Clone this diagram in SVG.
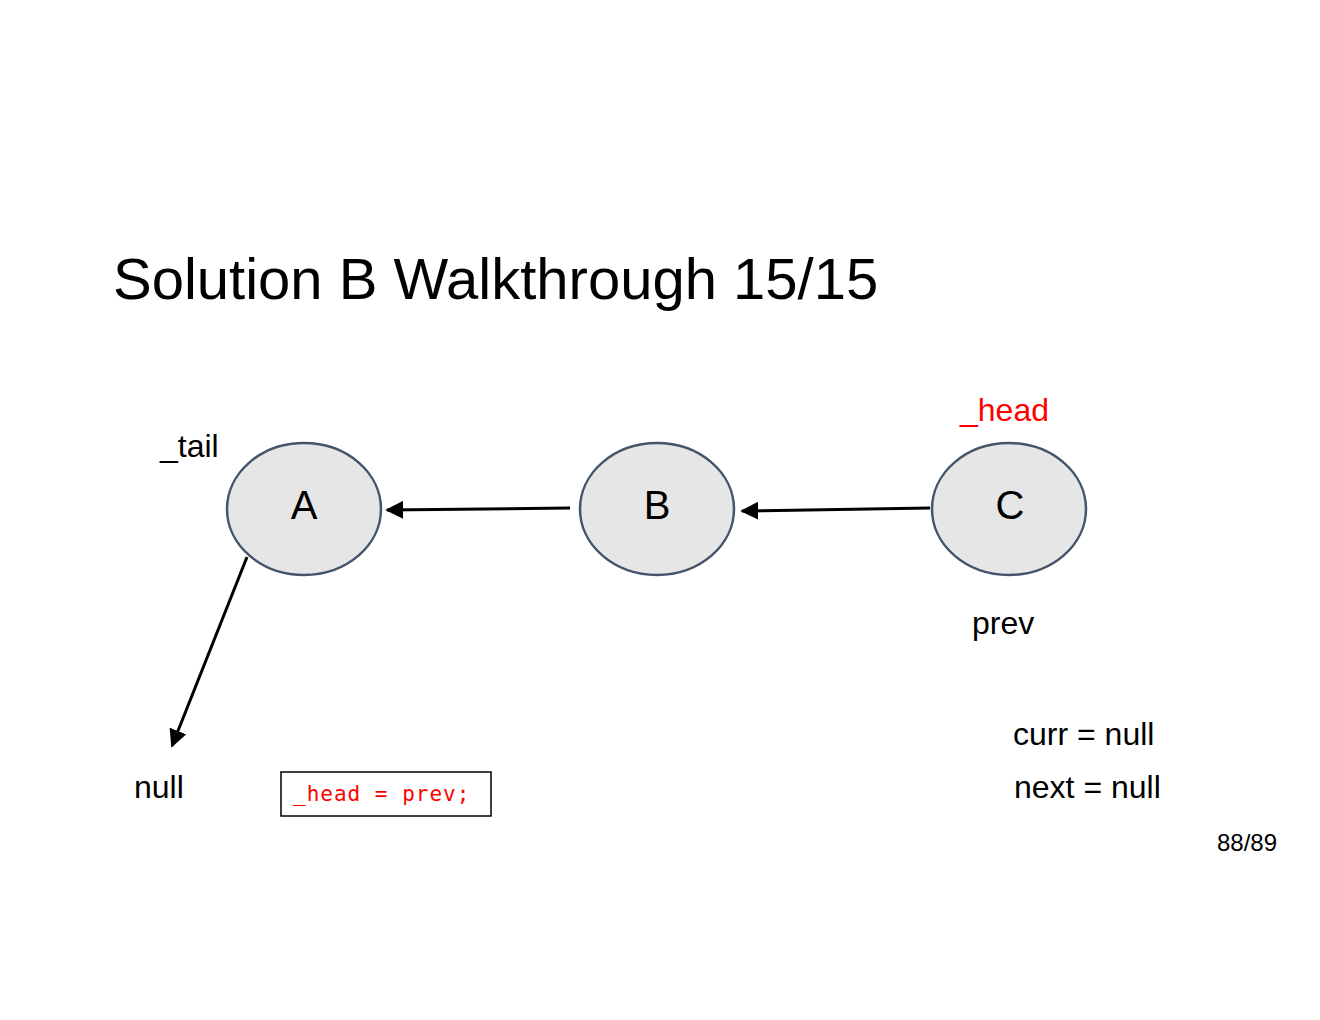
<svg xmlns="http://www.w3.org/2000/svg" width="1320" height="1020" viewBox="0 0 1320 1020">
  <style>
    .t { font-family: "Liberation Sans", Arial, sans-serif; fill: #000; }
    .red { fill: #ff0000; }
    .node ellipse { fill: #e6e6e6; stroke: #44546a; stroke-width: 2.5; }
    .node text { font-family: "Liberation Sans", Arial, sans-serif; font-size: 40px; text-anchor: middle; fill: #000; }
    .edge { stroke: #000; stroke-width: 3; fill: none; marker-end: url(#arrow); }
    .code { font-family: "DejaVu Sans Mono", "Liberation Mono", monospace; font-size: 21px; letter-spacing: 1px; fill: #ff0000; }
  </style>
  <defs>
    <marker id="arrow" viewBox="0 0 10 10" refX="9" refY="5" markerWidth="6" markerHeight="6" orient="auto" markerUnits="strokeWidth">
      <path d="M0,0 L10,5 L0,10 z" fill="#000"/>
    </marker>
  </defs>
  <rect width="1320" height="1020" fill="#fff"/>

  <text class="t" x="113" y="299" font-size="58">Solution B Walkthrough 15/15</text>

  <g id="connectors">
    <line class="edge" x1="570" y1="508" x2="387" y2="510"/>
    <line class="edge" x1="930" y1="508" x2="742" y2="511"/>
    <line class="edge" x1="247" y1="557" x2="172" y2="746"/>
  </g>

  <g id="node-A" class="node">
    <ellipse cx="304" cy="509" rx="77" ry="66"/>
    <text x="304" y="519">A</text>
  </g>
  <g id="node-B" class="node">
    <ellipse cx="657" cy="509" rx="77" ry="66"/>
    <text x="657" y="519">B</text>
  </g>
  <g id="node-C" class="node">
    <ellipse cx="1009" cy="509" rx="77" ry="66"/>
    <text x="1010" y="519">C</text>
  </g>

  <g id="labels">
    <text class="t" x="160" y="457" font-size="32">_tail</text>
    <text class="t red" x="960" y="421" font-size="32">_head</text>
    <text class="t" x="972" y="634" font-size="32">prev</text>
    <text class="t" x="134" y="798" font-size="32">null</text>
    <text class="t" x="1013" y="745" font-size="32">curr = null</text>
    <text class="t" x="1014" y="798" font-size="32">next = null</text>
    <text class="t" x="1217" y="851" font-size="24">88/89</text>
  </g>

  <g id="code-box">
    <rect x="281" y="772" width="210" height="44" fill="#fff" stroke="#000" stroke-width="1.5"/>
    <text class="code" x="293" y="801">_head = prev;</text>
  </g>
</svg>
